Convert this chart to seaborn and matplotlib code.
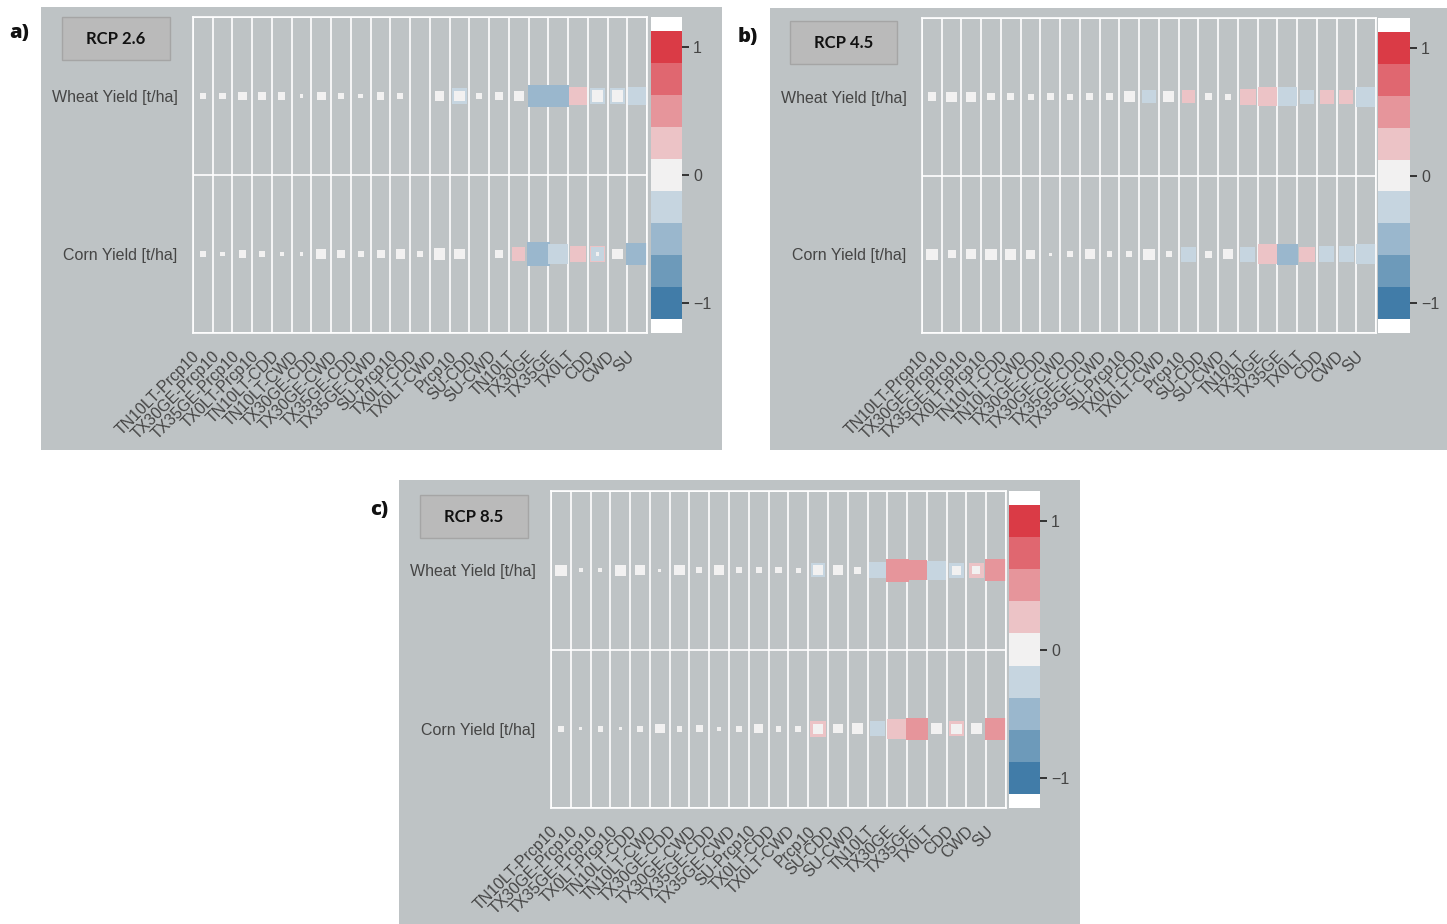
import numpy as np
import pandas as pd
import matplotlib
matplotlib.use("Agg")
import matplotlib.pyplot as plt
from matplotlib.patches import Rectangle
from matplotlib.colors import ListedColormap
import seaborn as sns

# ---------------------------------------------------------------------------
# Data: correlation of climate indices with crop yield for three scenarios
# ---------------------------------------------------------------------------
indices = ["TN10LT-Prcp10", "TX30GE-Prcp10", "TX35GE-Prcp10", "TX0LT-Prcp10",
           "TN10LT-CDD", "TN10LT-CWD", "TX30GE-CDD", "TX30GE-CWD",
           "TX35GE-CDD", "TX35GE-CWD", "SU-Prcp10", "TX0LT-CDD", "TX0LT-CWD",
           "Prcp10", "SU-CDD", "SU-CWD", "TN10LT", "TX30GE", "TX35GE",
           "TX0LT", "CDD", "CWD", "SU"]
crops = ["Wheat Yield [t/ha]", "Corn Yield [t/ha]"]
scenarios = ["RCP 2.6", "RCP 4.5", "RCP 8.5"]
panel_tags = ["a)", "b)", "c)"]
cbar_ticks = [-1, 0, 1]

rcp26_wheat = [0.03, 0.04, 0.07, 0.07, 0.05, 0.01, 0.07, 0.035, 0.02, 0.05, 0.035, 0.0,
               0.085, -0.23, 0.03, 0.05, 0.10, -0.42, -0.47, 0.29, -0.23, -0.23, -0.34]
rcp26_corn = [0.03, 0.02, 0.05, 0.035, 0.015, 0.01, 0.10, 0.06, 0.035, 0.06, 0.085, 0.025,
              0.12, 0.11, 0.0, 0.07, 0.17, -0.50, -0.36, 0.23, 0.23, 0.10, -0.45]
rcp26_inner = [("Wheat Yield [t/ha]", "Prcp10", 0.11),
               ("Wheat Yield [t/ha]", "CDD", 0.12),
               ("Wheat Yield [t/ha]", "CWD", 0.12),
               ("Corn Yield [t/ha]", "CDD", -0.16),
               ("Corn Yield [t/ha]", "CDD", 0.01)]

rcp45_wheat = [0.07, 0.10, 0.10, 0.05, 0.05, 0.035, 0.05, 0.035, 0.05, 0.05, 0.11, -0.17,
               0.11, 0.17, 0.05, 0.035, 0.23, 0.33, -0.35, -0.19, 0.19, 0.19, -0.36]
rcp45_corn = [0.12, 0.06, 0.10, 0.12, 0.11, 0.085, 0.01, 0.03, 0.10, 0.03, 0.03, 0.12,
              0.035, -0.22, 0.05, 0.10, -0.21, 0.36, -0.42, 0.22, -0.23, -0.23, -0.36]
rcp45_inner = []

rcp85_wheat = [0.12, 0.015, 0.015, 0.12, 0.10, 0.01, 0.10, 0.035, 0.10, 0.035, 0.03, 0.035,
               0.02, -0.19, 0.10, 0.045, -0.25, 0.51, 0.39, -0.34, -0.21, 0.22, 0.47]
rcp85_corn = [0.035, 0.01, 0.03, 0.01, 0.035, 0.085, 0.03, 0.05, 0.012, 0.035, 0.085, 0.03,
              0.035, 0.23, 0.085, 0.12, -0.21, 0.36, 0.44, 0.12, 0.22, 0.11, 0.47]
rcp85_inner = [("Wheat Yield [t/ha]", "Prcp10", 0.10),
               ("Wheat Yield [t/ha]", "CDD", 0.085),
               ("Wheat Yield [t/ha]", "CWD", 0.06),
               ("Corn Yield [t/ha]", "Prcp10", 0.10),
               ("Corn Yield [t/ha]", "CDD", 0.10)]

# ---------------------------------------------------------------------------
# Style
# ---------------------------------------------------------------------------
sns.set_style("white")
plt.rcParams["font.family"] = ["Liberation Sans", "DejaVu Sans"]
plt.rcParams["axes.unicode_minus"] = True

W, H = 1447, 924
PANEL_GRAY = "#bec3c5"
BOX_GRAY = "#bababa"
TEXT_COLOR = "#454545"

palette = sns.diverging_palette(240, 10, n=9)
cmap = ListedColormap(palette)
HUE_NORM = (-1.125, 1.125)
SIZE_NORM = (0, 0.6)
SIZE_RANGE = (0, 330)


def fig_rect(x0, y0, x1, y1):
    """Pixel box (top-left origin) -> figure fraction [left, bottom, width, height]."""
    return [x0 / W, 1 - y1 / H, (x1 - x0) / W, (y1 - y0) / H]


fig = plt.figure(figsize=(W / 100, H / 100), dpi=100, facecolor="white")

layouts = [
    dict(panel=(41, 7, 722, 450), main=(193, 17, 647, 333), cbar=(651, 17, 682, 333),
         box=(62, 17, 170, 60), tag=(9, 33)),
    dict(panel=(770, 8, 1447, 450), main=(922, 18, 1376, 333), cbar=(1378, 18, 1410, 333),
         box=(790, 21, 897, 64), tag=(738, 37)),
    dict(panel=(399, 480, 1080, 924), main=(551, 491, 1006, 808), cbar=(1009, 491, 1040, 808),
         box=(420, 495, 528, 538), tag=(370, 510)),
]
series = [(rcp26_wheat, rcp26_corn, rcp26_inner),
          (rcp45_wheat, rcp45_corn, rcp45_inner),
          (rcp85_wheat, rcp85_corn, rcp85_inner)]


def draw_panel(lay, title, tag, wheat, corn, inner):
    # panel background
    x0, y0, x1, y1 = lay["panel"]
    l, b, w, h = fig_rect(x0, y0, x1, y1)
    fig.add_artist(Rectangle((l, b), w, h, transform=fig.transFigure,
                             facecolor=PANEL_GRAY, edgecolor="none", zorder=-2))
    # scenario box
    bx0, by0, bx1, by1 = lay["box"]
    l, b, w, h = fig_rect(bx0, by0, bx1, by1)
    fig.add_artist(Rectangle((l, b), w, h, transform=fig.transFigure,
                             facecolor=BOX_GRAY, edgecolor="#a5a5a5", lw=1.0, zorder=-1))
    fig.text((bx0 + bx1) / 2 / W, 1 - (by0 + by1) / 2 / H, title,
             ha="center", va="center", fontsize=12, fontweight="bold",
             family=["Lato", "DejaVu Sans"], color="#111111")
    tx, ty = lay["tag"]
    fig.text(tx / W, 1 - ty / H, tag, ha="left", va="center", fontsize=14.5,
             fontweight="heavy", family=["Open Sans", "DejaVu Sans"], color="#111111")

    # size / colour encoded squares
    ax = fig.add_axes(fig_rect(*lay["main"]))
    df = pd.DataFrame({
        "index": indices * 2,
        "crop": [crops[0]] * len(indices) + [crops[1]] * len(indices),
        "value": list(wheat) + list(corn),
    })
    df["magnitude"] = df["value"].abs()
    sns.scatterplot(data=df, x="index", y="crop", hue="value", size="magnitude",
                    palette=cmap, hue_norm=HUE_NORM, sizes=SIZE_RANGE,
                    size_norm=SIZE_NORM, marker="s", linewidth=0, legend=False, ax=ax)
    if inner:
        di = pd.DataFrame(inner, columns=["crop", "index", "value"])
        di["magnitude"] = di["value"].abs()
        sns.scatterplot(data=di, x="index", y="crop", hue="value", size="magnitude",
                        palette=cmap, hue_norm=HUE_NORM, sizes=SIZE_RANGE,
                        size_norm=SIZE_NORM, marker="s", linewidth=0, legend=False, ax=ax)

    n = len(indices)
    ax.set_xticks(np.arange(n))
    ax.set_xticklabels(indices, rotation=45, ha="right")
    ax.set_xticks(np.arange(-0.5, n), minor=True)
    ax.set_yticks([0, 1])
    ax.set_yticklabels(crops)
    ax.set_yticks([-0.5, 0.5, 1.5], minor=True)
    ax.set_xlim(-0.5, n - 0.5)
    ax.set_ylim(1.5, -0.5)
    ax.grid(False, which="major")
    ax.grid(True, which="minor", color="white", linewidth=1.2)
    ax.set_axisbelow(True)
    ax.tick_params(which="both", length=0)
    ax.tick_params(axis="x", which="major", pad=11, labelsize=11.5, labelcolor=TEXT_COLOR)
    ax.tick_params(axis="y", which="major", pad=11, labelsize=11.5, labelcolor=TEXT_COLOR)
    ax.set_xlabel("")
    ax.set_ylabel("")
    ax.set_facecolor("none")
    for s in ax.spines.values():
        s.set_visible(True)
        s.set_color("white")
        s.set_linewidth(1.2)

    # discrete colour scale
    cax = fig.add_axes(fig_rect(*lay["cbar"]))
    bar_y = np.linspace(-1, 1, len(palette))
    bar_h = bar_y[1] - bar_y[0]
    cax.barh(y=bar_y, width=[5] * len(palette), left=[0] * len(palette),
             height=bar_h, color=palette, linewidth=0)
    cax.set_xlim(1, 2)
    cax.set_ylim(-1 - bar_h / 2 - 0.1125, 1 + bar_h / 2 + 0.1125)
    cax.grid(False)
    cax.set_facecolor("white")
    cax.set_xticks([])
    cax.set_yticks(cbar_ticks)
    cax.yaxis.tick_right()
    cax.tick_params(axis="y", length=5, width=1.4, color="#333333", pad=3,
                    labelsize=11.5, labelcolor=TEXT_COLOR)
    for s in cax.spines.values():
        s.set_visible(False)


for lay, title, tag, (wheat, corn, inner) in zip(layouts, scenarios, panel_tags, series):
    draw_panel(lay, title, tag, wheat, corn, inner)

fig.savefig("out.png", dpi=100, facecolor="white")
